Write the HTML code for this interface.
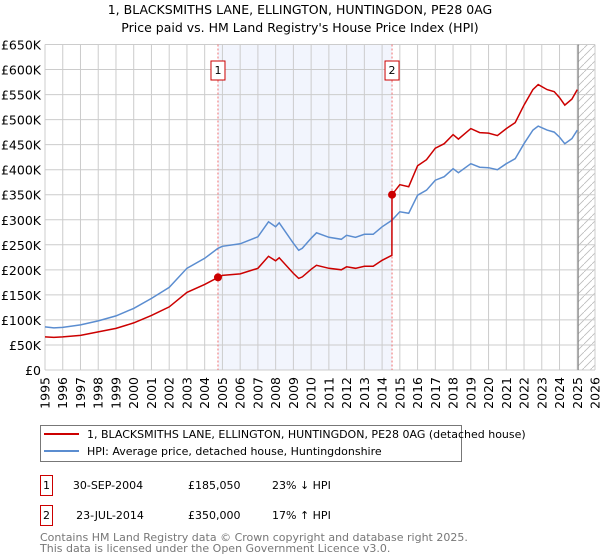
<!DOCTYPE html>
<html><head><meta charset="utf-8"><style>
body{margin:0;background:#fff;font-family:"Liberation Sans","DejaVu Sans",sans-serif;}
svg{display:block}
</style></head><body>
<svg id="c" width="600" height="560" xmlns="http://www.w3.org/2000/svg" font-family="DejaVu Sans, Liberation Sans, sans-serif">
<text x="300" y="14" text-anchor="middle" font-size="12.5">1, BLACKSMITHS LANE, ELLINGTON, HUNTINGDON, PE28 0AG</text>
<text x="300" y="32" text-anchor="middle" font-size="12.5">Price paid vs. HM Land Registry's House Price Index (HPI)</text>
<g id="plot"></g>
<g>
<rect x="40.5" y="425.5" width="421" height="36" fill="#fff" stroke="#777"/>
<line x1="44" y1="434" x2="79" y2="434" stroke="#cc0000" stroke-width="2"/>
<text x="87" y="438" font-size="11">1, BLACKSMITHS LANE, ELLINGTON, HUNTINGDON, PE28 0AG (detached house)</text>
<line x1="44" y1="451" x2="79" y2="451" stroke="#5b8dd0" stroke-width="2"/>
<text x="87" y="455" font-size="11">HPI: Average price, detached house, Huntingdonshire</text>
</g>
<g font-size="11">
<rect x="40.5" y="475.5" width="12" height="20" fill="#fff" stroke="#cc0000"/>
<text x="46.5" y="489" text-anchor="middle">1</text>
<text x="108" y="489" text-anchor="middle">30-SEP-2004</text>
<text x="188" y="489">£185,050</text>
<text x="272" y="489">23% ↓ HPI</text>
<rect x="40.5" y="505.5" width="12" height="20" fill="#fff" stroke="#cc0000"/>
<text x="46.5" y="519" text-anchor="middle">2</text>
<text x="110" y="519" text-anchor="middle">23-JUL-2014</text>
<text x="188" y="519">£350,000</text>
<text x="272" y="519">17% ↑ HPI</text>
</g>
<text x="40" y="541" font-size="11" fill="#777">Contains HM Land Registry data © Crown copyright and database right 2025.</text>
<text x="40" y="552" font-size="11" fill="#777">This data is licensed under the Open Government Licence v3.0.</text>
</svg>
<script>
const yTicks=[0,50,100,150,200,250,300,350,400,450,500,550,600,650];
const yTickLabels=["£0","£50K","£100K","£150K","£200K","£250K","£300K","£350K","£400K","£450K","£500K","£550K","£600K","£650K"];
const xYears=[1995,1996,1997,1998,1999,2000,2001,2002,2003,2004,2005,2006,2007,2008,2009,2010,2011,2012,2013,2014,2015,2016,2017,2018,2019,2020,2021,2022,2023,2024,2025,2026];
const hpiDates=[1995.0,1995.5,1996.0,1997.0,1998.0,1999.0,2000.0,2001.0,2002.0,2003.0,2004.0,2004.75,2005.0,2006.0,2007.0,2007.6,2008.0,2008.2,2009.0,2009.3,2009.5,2010.0,2010.3,2011.0,2011.7,2012.0,2012.5,2013.0,2013.5,2014.0,2014.55,2015.0,2015.5,2016.0,2016.5,2017.0,2017.5,2018.0,2018.3,2019.0,2019.5,2020.0,2020.5,2021.0,2021.5,2022.0,2022.5,2022.8,2023.3,2023.7,2024.0,2024.3,2024.7,2025.0];
const hpiValues=[86,84,85,90,98,108,123,143,165,203,223,243,247,252,266,296,286,294,253,239,243,263,274,265,261,269,265,271,271,286,299,316,313,349,359,379,386,402,394,412,405,404,400,412,422,452,479,487,479,475,465,452,462,479];
const priceDates=[1995.0,1995.5,1996.0,1997.0,1998.0,1999.0,2000.0,2001.0,2002.0,2003.0,2004.0,2004.75,2005.0,2006.0,2007.0,2007.6,2008.0,2008.2,2009.0,2009.3,2009.5,2010.0,2010.3,2011.0,2011.7,2012.0,2012.5,2013.0,2013.5,2014.0,2014.55,2014.56,2015.0,2015.5,2016.0,2016.5,2017.0,2017.5,2018.0,2018.3,2019.0,2019.5,2020.0,2020.5,2021.0,2021.5,2022.0,2022.5,2022.8,2023.3,2023.7,2024.0,2024.3,2024.7,2025.0];
const priceValues=[66,65,66,69,76,83,94,109,126,155,171,185,189,192,203,227,218,224,193,183,186,201,209,203,200,206,203,207,207,219,229,350,370,366,408,420,443,452,470,461,482,474,473,468,482,494,529,560,570,560,556,544,529,541,560];
const saleDates=[2004.75,2014.56];
const saleValues=[185.05,350];
const saleLabels=["1","2"];

const NS="http://www.w3.org/2000/svg";
const L=45,R=595,T=44.5,B=370;
const x=v=>L+(v-1995)/(2026-1995)*(R-L);
const y=v=>B-v/650*(B-T);
const g=document.getElementById('plot');
function mk(t,a){const e=document.createElementNS(NS,t);for(const k in a)e.setAttribute(k,a[k]);g.appendChild(e);return e;}
let e;
e=mk('rect',{x:L,y:T,width:R-L,height:B-T,fill:'#fff'});


e=mk('rect',{x:x(saleDates[0]),y:T,width:x(saleDates[1])-x(saleDates[0]),height:B-T,fill:'#eef2fc',opacity:0.75});


const defs=document.createElementNS(NS,'defs');
defs.innerHTML='<pattern id="h" width="8" height="8" patternUnits="userSpaceOnUse"><path d="M0,8 L8,0" stroke="#bbb" stroke-width="0.8"/></pattern>';
g.appendChild(defs);
e=mk('rect',{x:x(2025.05),y:T,width:R-x(2025.05),height:B-T,fill:'url(#h)'});


yTicks.forEach((v,i)=>{
 e=mk('line',{x1:L,x2:R,y1:y(v),y2:y(v),stroke:'#ccc','stroke-width':1});
 
 
 e=mk('text',{x:41,y:y(v)+5,'text-anchor':'end','font-size':12.5});
 e.textContent=yTickLabels[i];
 
 
});
xYears.forEach(v=>{
 e=mk('line',{x1:x(v),x2:x(v),y1:T,y2:B,stroke:'#ccc','stroke-width':1});
 
 
 e=mk('text',{x:0,y:0,'text-anchor':'end','font-size':12.5,transform:`translate(${x(v)+4.5},${B+7}) rotate(-90)`});
 e.textContent=String(v);
 
 
});
e=mk('line',{x1:x(2025.05),x2:x(2025.05),y1:T,y2:B,stroke:'#888','stroke-width':1.2});


saleDates.forEach((d,i)=>{
 e=mk('line',{x1:x(d),x2:x(d),y1:T,y2:B,stroke:'#f07070','stroke-dasharray':'2,2','stroke-width':1});
 
 
 e=mk('rect',{x:x(d)-7,y:61,width:14,height:19,fill:'#fff',stroke:'#cc0000'});
 
 
 e=mk('text',{x:x(d)-3.5,y:74,'font-size':11});
 e.textContent=saleLabels[i];
 
 
});
const pts=(ds,vs)=>ds.map((d,i)=>x(d).toFixed(1)+','+y(vs[i]).toFixed(1)).join(' ');
e=mk('polyline',{points:pts(hpiDates,hpiValues),fill:'none',stroke:'#5b8dd0','stroke-width':1.5});


e=mk('polyline',{points:pts(priceDates,priceValues),fill:'none',stroke:'#cc0000','stroke-width':1.5});


saleDates.forEach((d,i)=>{
 e=mk('circle',{cx:x(d),cy:y(saleValues[i]),r:4,fill:'#cc0000'});
 
 
});
</script>
</body></html>
